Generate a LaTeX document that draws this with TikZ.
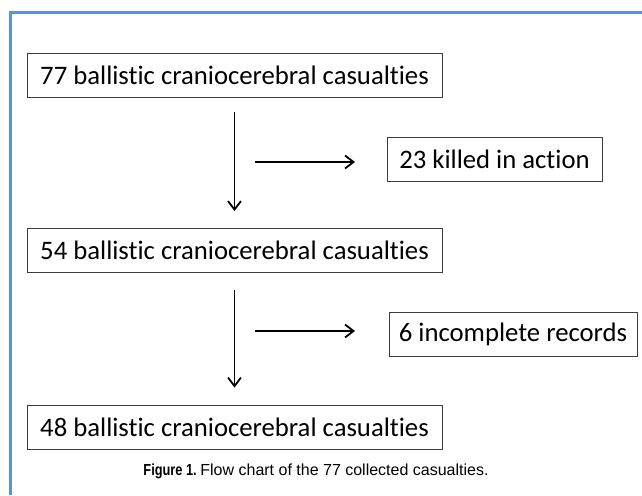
\documentclass[tikz,border=0pt]{standalone}
\usepackage{fontspec}
\setmainfont{Carlito}[Ligatures=NoCommon]
\newfontfamily\capfont{Liberation Sans}
\newfontfamily\capboldfont[FakeStretch=0.8]{Liberation Sans}
\usepackage{tikz}
\usetikzlibrary{arrows.meta}
\usetikzlibrary{positioning}
\definecolor{framecol}{RGB}{91,148,210}
\definecolor{boxcol}{RGB}{60,60,60}

\begin{document}
\begin{tikzpicture}[x=1pt,y=-1pt]
\tikzstyle{stage}=[draw=boxcol,line width=0.9pt,inner sep=0pt,minimum height=44pt,font=\fontsize{26.7}{30}\selectfont]
\tikzstyle{flow}=[line width=1.8pt,-{Straight Barb[length=8.5pt,width=13pt,line width=1.8pt]}]
\useasboundingbox (0,0) rectangle (642,495);
\draw[framecol,line width=2.4pt] (642,12.5) -- (10.5,12.5) -- (10.5,495);
\node[stage,minimum width=415pt] (all) at (234.5,75) {77 ballistic craniocerebral casualties};
\node[stage,minimum width=415pt] (alive) at (234.5,250.5) {54 ballistic craniocerebral casualties};
\node[stage,minimum width=415pt] (final) at (234.5,427) {48 ballistic craniocerebral casualties};
\node[stage,minimum width=215pt] (killed) at (494.5,159) {23 killed in action};
\node[stage,minimum width=248pt] (records) at (513,334) {6 incomplete records};
\coordinate (out1) at (255,162);
\coordinate (out1end) at (355,162);
\coordinate (out2) at (255,331);
\coordinate (out2end) at (355,331);
\draw[flow,shorten <=15pt,shorten >=17pt] (all) -- (alive);
\draw[flow,shorten <=17pt,shorten >=17pt] (alive) -- (final);
\draw[flow] (out1) -- (out1end);
\draw[flow] (out2) -- (out2end);
\node (caption) at (316,471) {\fontsize{16}{19}\selectfont{\capboldfont\bfseries Figure 1.}\ \capfont Flow chart of the 77 collected casualties.};
\end{tikzpicture}
\end{document}
